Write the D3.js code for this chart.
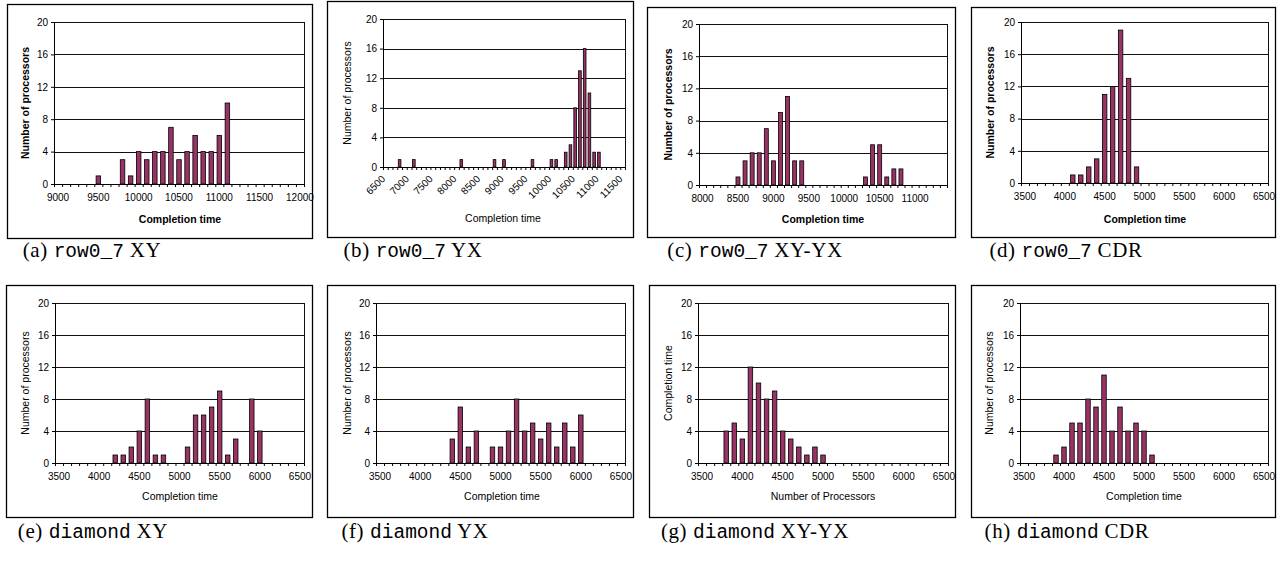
<!DOCTYPE html>
<html>
<head>
<meta charset="utf-8">
<script src="https://cdn.jsdelivr.net/npm/d3@7"></script>
<style>
  body { margin: 0; background: #fff; }
  svg { display: block; }
  .tick text { font-family: "Liberation Sans", Arial, sans-serif; font-size: 10px; fill: #000; }
  .title { font-family: "Liberation Sans", Arial, sans-serif; font-size: 10.5px; fill: #000; }
  .cap { font-family: "Liberation Serif", "Times New Roman", serif; font-size: 21px; fill: #000; letter-spacing: 0.6px; }
  .mono { font-family: "Liberation Mono", "Courier New", monospace; font-size: 19.5px; letter-spacing: 0; }
</style>
</head>
<body>
<div id="fig"></div>
<script>
// bins are 100 time units wide, only non-empty bins are listed
const binStep = 100;
const yTicks = [0, 4, 8, 12, 16, 20];

// (a) row0_7 XY
const aTimes  = [9500, 9800, 9900, 10000, 10100, 10200, 10300, 10400, 10500, 10600, 10700, 10800, 10900, 11000, 11100];
const aCounts = [1, 3, 1, 4, 3, 4, 4, 7, 3, 4, 6, 4, 4, 6, 10];
const aTickLabels = ["9000", "9500", "10000", "10500", "11000", "11500", "12000"];

// (b) row0_7 YX
const bTimes  = [6800, 7100, 8100, 8800, 9000, 9600, 10000, 10100, 10300, 10400, 10500, 10600, 10700, 10800, 10900, 11000];
const bCounts = [1, 1, 1, 1, 1, 1, 1, 1, 2, 3, 8, 13, 16, 10, 2, 2];
const bTickLabels = ["6500", "7000", "7500", "8000", "8500", "9000", "9500", "10000", "10500", "11000", "11500"];

// (c) row0_7 XY-YX
const cTimes  = [8500, 8600, 8700, 8800, 8900, 9000, 9100, 9200, 9300, 9400, 10300, 10400, 10500, 10600, 10700, 10800];
const cCounts = [1, 3, 4, 4, 7, 3, 9, 11, 3, 3, 1, 5, 5, 1, 2, 2];
const cTickLabels = ["8000", "8500", "9000", "9500", "10000", "10500", "11000"];

// (d) row0_7 CDR
const dTimes  = [4100, 4200, 4300, 4400, 4500, 4600, 4700, 4800, 4900];
const dCounts = [1, 1, 2, 3, 11, 12, 19, 13, 2];

// (e) diamond XY
const eTimes  = [4200, 4300, 4400, 4500, 4600, 4700, 4800, 5100, 5200, 5300, 5400, 5500, 5600, 5700, 5900, 6000];
const eCounts = [1, 1, 2, 4, 8, 1, 1, 2, 6, 6, 7, 9, 1, 3, 8, 4];

// (f) diamond YX
const fTimes  = [4400, 4500, 4600, 4700, 4900, 5000, 5100, 5200, 5300, 5400, 5500, 5600, 5700, 5800, 5900, 6000];
const fCounts = [3, 7, 2, 4, 2, 2, 4, 8, 4, 5, 3, 5, 2, 5, 2, 6];

// (g) diamond XY-YX
const gTimes  = [3800, 3900, 4000, 4100, 4200, 4300, 4400, 4500, 4600, 4700, 4800, 4900, 5000];
const gCounts = [4, 5, 3, 12, 10, 8, 9, 4, 3, 2, 1, 2, 1];

// (h) diamond CDR
const hTimes  = [3900, 4000, 4100, 4200, 4300, 4400, 4500, 4600, 4700, 4800, 4900, 5000, 5100];
const hCounts = [1, 2, 5, 5, 8, 7, 11, 4, 7, 4, 5, 4, 1];

const diamondTickLabels = ["3500", "4000", "4500", "5000", "5500", "6000", "6500"];

const panels = [
  {letter: "(a)", net: "row0_7", alg: "XY", times: aTimes, counts: aCounts, first: 9000, last: 12000, labels: aTickLabels,
   xTitle: "Completion time", yTitle: "Number of processors", bold: true, rotate: false,
   frame: [7, 4, 305, 234], plot: [54, 22, 250, 162], xt: [180, 223], yt: 29, cap: [92, 257]},
  {letter: "(b)", net: "row0_7", alg: "YX", times: bTimes, counts: bCounts, first: 6500, last: 11500, labels: bTickLabels,
   xTitle: "Completion time", yTitle: "Number of processors", bold: false, rotate: true,
   frame: [327, 1, 306, 236], plot: [383, 19, 242, 148], xt: [503, 222], yt: 351, cap: [413, 257]},
  {letter: "(c)", net: "row0_7", alg: "XY-YX", times: cTimes, counts: cCounts, first: 8000, last: 11400, labels: cTickLabels,
   xTitle: "Completion time", yTitle: "Number of processors", bold: true, rotate: false,
   frame: [647, 7, 308, 230], plot: [699, 24, 248, 161], xt: [823, 223], yt: 672, cap: [755, 257]},
  {letter: "(d)", net: "row0_7", alg: "CDR", times: dTimes, counts: dCounts, first: 3500, last: 6500, labels: diamondTickLabels,
   xTitle: "Completion time", yTitle: "Number of processors", bold: true, rotate: false,
   frame: [971, 7, 304, 230], plot: [1021, 22, 247, 161], xt: [1145, 223], yt: 994, cap: [1066, 257]},
  {letter: "(e)", net: "diamond", alg: "XY", times: eTimes, counts: eCounts, first: 3500, last: 6500, labels: diamondTickLabels,
   xTitle: "Completion time", yTitle: "Number of processors", bold: false, rotate: false,
   frame: [6, 285, 306, 232], plot: [55, 303, 249, 160], xt: [180, 500], yt: 29, cap: [93, 538]},
  {letter: "(f)", net: "diamond", alg: "YX", times: fTimes, counts: fCounts, first: 3500, last: 6500, labels: diamondTickLabels,
   xTitle: "Completion time", yTitle: "Number of processors", bold: false, rotate: false,
   frame: [327, 285, 306, 232], plot: [376, 303, 249, 160], xt: [502, 500], yt: 351, cap: [415, 538]},
  {letter: "(g)", net: "diamond", alg: "XY-YX", times: gTimes, counts: gCounts, first: 3500, last: 6500, labels: diamondTickLabels,
   xTitle: "Number of Processors", yTitle: "Completion time", bold: false, rotate: false,
   frame: [649, 285, 306, 232], plot: [698, 303, 250, 160], xt: [823, 500], yt: 672, cap: [755, 538]},
  {letter: "(h)", net: "diamond", alg: "CDR", times: hTimes, counts: hCounts, first: 3500, last: 6500, labels: diamondTickLabels,
   xTitle: "Completion time", yTitle: "Number of processors", bold: false, rotate: false,
   frame: [971, 285, 304, 232], plot: [1020, 303, 248, 160], xt: [1144, 500], yt: 993, cap: [1067, 538]}
];

const svg = d3.select("#fig").append("svg")
    .attr("width", 1277)
    .attr("height", 562);

const gap = 0.44; // Excel-ish gap between bars

panels.forEach(function (p) {
  let g = svg.append("g");
  let [fx, fy, fw, fh] = p.frame;
  let [px, py, pw, ph] = p.plot;

  // outer chart frame
  g.append("rect")
      .attr("x", fx + 0.5).attr("y", fy + 0.5)
      .attr("width", fw).attr("height", fh)
      .attr("fill", "none")
      .attr("stroke", "#000")
      .attr("stroke-width", 1.3);

  let cats = d3.range(p.first, p.last + 1, binStep);
  let x = d3.scaleBand()
      .domain(cats)
      .range([px, px + pw])
      .paddingInner(gap)
      .paddingOuter(gap / 2);
  // continuous version of the same axis, for the category boundary ticks
  let xEdge = d3.scaleLinear()
      .domain([p.first - binStep / 2, p.last + binStep / 2])
      .range([px, px + pw]);
  let y = d3.scaleLinear().domain([0, 20]).range([py + ph, py]);

  // gridlines
  g.selectAll("line.grid")
      .data(yTicks.slice(1))
      .join("line")
      .attr("class", "grid")
      .attr("x1", px).attr("x2", px + pw)
      .attr("y1", d => Math.round(y(d)) + 0.5)
      .attr("y2", d => Math.round(y(d)) + 0.5)
      .attr("stroke", "#111")
      .attr("stroke-width", 1);

  // right border of plot area
  g.append("line")
      .attr("x1", px + pw + 0.5).attr("x2", px + pw + 0.5)
      .attr("y1", y(20)).attr("y2", y(0))
      .attr("stroke", "#111");

  // bars
  let rows = p.times.map((t, i) => ({t: t, n: p.counts[i]}));
  g.selectAll("rect.bar")
      .data(rows)
      .join("rect")
      .attr("class", "bar")
      .attr("x", d => x(d.t))
      .attr("width", x.bandwidth())
      .attr("y", d => y(d.n))
      .attr("height", d => y(0) - y(d.n))
      .attr("fill", "#993366")
      .attr("stroke", "#000")
      .attr("stroke-width", 0.8);

  // y axis
  let yAxis = g.append("g")
      .attr("transform", "translate(" + px + ",0)")
      .call(d3.axisLeft(y).tickValues(yTicks).tickSize(3).tickPadding(3).tickSizeOuter(0));
  yAxis.select(".domain").attr("stroke", "#000");
  yAxis.selectAll(".tick line").attr("stroke", "#000");

  // x axis: minor ticks on category edges
  let edges = d3.range(p.first - binStep / 2, p.last + binStep, binStep);
  let xMinor = g.append("g")
      .attr("transform", "translate(0," + (py + ph) + ")")
      .call(d3.axisBottom(xEdge).tickValues(edges).tickSize(3).tickFormat("").tickSizeOuter(0));
  xMinor.select(".domain").attr("stroke", "#000");
  xMinor.selectAll(".tick line").attr("stroke", "#000");

  // x axis labels at category centres
  let xLab = g.append("g")
      .attr("transform", "translate(0," + (py + ph) + ")")
      .call(d3.axisBottom(x).tickValues(p.labels.map(Number)).tickSize(0).tickPadding(10));
  xLab.select(".domain").remove();
  if (p.rotate) {
    xLab.selectAll(".tick text")
        .attr("text-anchor", "end")
        .attr("dy", "0.35em")
        .attr("transform", "translate(-9,3) rotate(-45)");
  }

  // axis titles
  g.append("text")
      .attr("class", "title")
      .attr("x", p.xt[0]).attr("y", p.xt[1])
      .attr("text-anchor", "middle")
      .attr("font-weight", p.bold ? "bold" : "normal")
      .text(p.xTitle);
  g.append("text")
      .attr("class", "title")
      .attr("transform", "translate(" + p.yt + "," + (py + ph / 2) + ") rotate(-90)")
      .attr("text-anchor", "middle")
      .attr("font-weight", p.bold ? "bold" : "normal")
      .text(p.yTitle);

  // sub-figure caption
  let cap = svg.append("text")
      .attr("class", "cap")
      .attr("x", p.cap[0]).attr("y", p.cap[1])
      .attr("text-anchor", "middle");
  cap.append("tspan").text(p.letter + " ");
  cap.append("tspan").attr("class", "mono").text(p.net);
  cap.append("tspan").text(" " + p.alg);
});
</script>
</body>
</html>
